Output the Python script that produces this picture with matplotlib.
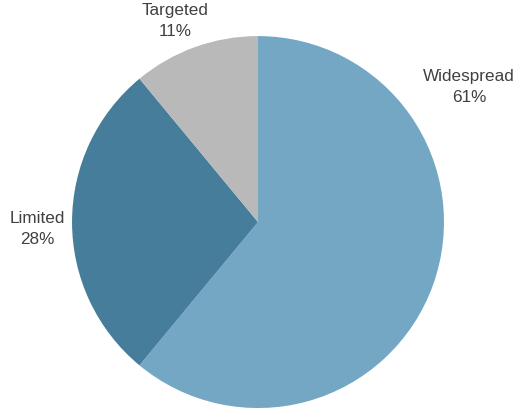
import matplotlib.pyplot as plt

plt.rcParams['font.family'] = ['Liberation Sans', 'DejaVu Sans']

categories = ['Widespread', 'Limited', 'Targeted']
shares = [61, 28, 11]
colors = ['#74a7c4', '#457d9a', '#b9b9b9']
# label anchor points in pie-radius units
label_pos = [(1.136, 0.726), (-1.188, -0.04), (-0.446, 1.08)]

fig = plt.figure(figsize=(5.19, 4.11), dpi=100)
ax = fig.add_axes([0, 0, 1, 1])

ax.pie(shares, colors=colors, startangle=90, counterclock=False,
       radius=1, center=(0, 0), wedgeprops={'linewidth': 0})

for name, val, (x, y) in zip(categories, shares, label_pos):
    ax.text(x, y, f'{name}\n{val}%', ha='center', va='center',
            fontsize=12.3, color='#404040', linespacing=1.5)

ax.set_xlim(-1.387, 1.403)
ax.set_ylim(-1.016, 1.194)
ax.set_aspect('equal')
ax.axis('off')

fig.savefig('out.png', dpi=100)
